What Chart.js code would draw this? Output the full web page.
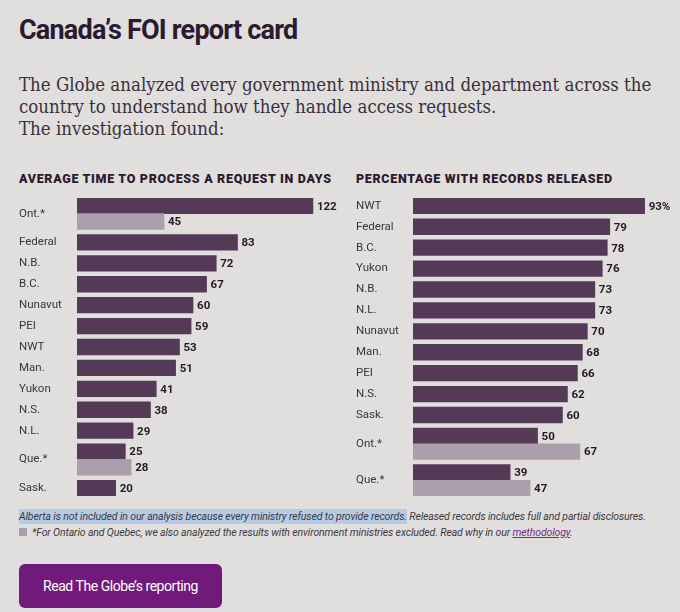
<!DOCTYPE html>
<html>
<head>
<meta charset="utf-8">
<script src="https://cdn.jsdelivr.net/npm/chart.js@4"></script>
<style>
  html, body { margin: 0; padding: 0; }
  body { width: 680px; height: 612px; background: #e1dfde; position: relative; overflow: hidden; font-family: Roboto, sans-serif; }
  h1 { position: absolute; left: 19px; top: 14px; margin: 0; font: 700 27px Roboto, sans-serif; letter-spacing: -0.8px; color: #2c1a2e; }
  .intro { position: absolute; left: 19px; top: 74px; width: 660px; margin: 0; font: 400 18.5px/22px "DejaVu Serif Condensed", "DejaVu Serif", serif; font-stretch: condensed; color: #3b2f3c; }
  .head { position: absolute; top: 171px; margin: 0; font: 900 12.5px Roboto, sans-serif; letter-spacing: 0.68px; color: #2c1a2e; }
  .box { position: absolute; top: 198px; height: 298px; }
  .note { position: absolute; left: 19px; margin: 0; font: italic 400 10.5px Roboto, sans-serif; letter-spacing: -0.13px; color: #3e3840; white-space: nowrap; }
  .note mark { background: #b7cbe6; color: inherit; padding: 1px 0; }
  .note a { color: #7b2a86; }
  .sq { display: inline-block; width: 8px; height: 8px; background: #aa9eae; margin-right: 5px; }
  .btn { position: absolute; left: 19px; top: 564px; width: 203px; height: 44px; background: #711a7c; border-radius: 6px; color: #fff; font: 400 14px Roboto, sans-serif; letter-spacing: -0.45px; line-height: 44px; text-align: center; }
</style>
</head>
<body>
<h1>Canada’s FOI report card</h1>
<p class="intro">The Globe analyzed every government ministry and department across the country to understand how they handle access requests.<br>The investigation found:</p>

<p class="head" style="left:19px">AVERAGE TIME TO PROCESS A REQUEST IN DAYS</p>
<p class="head" style="left:356px">PERCENTAGE WITH RECORDS RELEASED</p>

<div class="box" style="left:19px; width:321px"><canvas id="timeChart"></canvas></div>
<div class="box" style="left:356px; width:324px"><canvas id="releaseChart"></canvas></div>

<p class="note" style="top:510px"><mark>Alberta is not included in our analysis because every ministry refused to provide records.</mark> Released records includes full and partial disclosures.</p>
<p class="note" style="top:526px"><span class="sq"></span>*For Ontario and Quebec, we also analyzed the results with environment ministries excluded. Read why in our <a href="#">methodology</a>.</p>

<div class="btn">Read The Globe’s reporting</div>

<script>
// average days to process a request
const timeLabels = ['Ont.*', 'Federal', 'N.B.', 'B.C.', 'Nunavut', 'PEI', 'NWT', 'Man.', 'Yukon', 'N.S.', 'N.L.', 'Que.*', 'Sask.'];
const timeAll = [122, 83, 72, 67, 60, 59, 53, 51, 41, 38, 29, 25, 20];
const timeNoEnv = [45, null, null, null, null, null, null, null, null, null, null, 28, null]; // environment ministries excluded

// percentage with records released
const releaseLabels = ['NWT', 'Federal', 'B.C.', 'Yukon', 'N.B.', 'N.L.', 'Nunavut', 'Man.', 'PEI', 'N.S.', 'Sask.', 'Ont.*', 'Que.*'];
const releaseAll = [93, 79, 78, 76, 73, 73, 70, 68, 66, 62, 60, 50, 39];
const releaseNoEnv = [null, null, null, null, null, null, null, null, null, null, null, 67, 47];

const DARK = '#553a58';
const LIGHT = '#ab9fae';
const BAR_SHARE = 0.75; // a bar is 3/4 of a row, a second bar sits right under it

// builds the bar list, each bar on its own slot of a linear y scale
function buildRows(labels, all, noEnv) {
    const bars = [];
    const ticks = [];
    let pos = 0;
    labels.forEach((label, i) => {
        bars.push({ x: all[i], y: pos, light: false });
        if (noEnv[i] !== null) {
            bars.push({ x: noEnv[i], y: pos + BAR_SHARE, light: true });
            ticks.push({ value: pos + BAR_SHARE / 2 });
            pos += BAR_SHARE;
        } else {
            ticks.push({ value: pos });
        }
        pos += 1;
    });
    return { bars, ticks, last: pos - 1 };
}

const valueLabels = {
    id: 'valueLabels',
    afterDatasetsDraw(chart) {
        const ctx = chart.ctx;
        const suffix = chart.options.plugins.valueLabels.suffix;
        ctx.save();
        ctx.font = '700 11.5px Roboto, sans-serif';
        ctx.fillStyle = '#231a24';
        ctx.textBaseline = 'middle';
        chart.getDatasetMeta(0).data.forEach((bar, i) => {
            const v = chart.data.datasets[0].data[i].x;
            ctx.fillText(v + (i === 0 ? suffix : ''), bar.x + 4, bar.y + 1);
        });
        ctx.restore();
    }
};

function createBarChart(canvasId, labels, all, noEnv, xMax, axisWidth, suffix) {
    const rows = buildRows(labels, all, noEnv);
    const ctx = document.getElementById(canvasId).getContext('2d');
    return new Chart(ctx, {
        type: 'bar',
        data: {
            datasets: [{
                data: rows.bars,
                backgroundColor: rows.bars.map(b => b.light ? LIGHT : DARK),
                categoryPercentage: 1,
                barPercentage: 1,
            }]
        },
        options: {
            indexAxis: 'y',
            responsive: true,
            maintainAspectRatio: false,
            animation: false,
            layout: { padding: 0 },
            scales: {
                x: {
                    type: 'linear',
                    display: false,
                    min: 0,
                    max: xMax
                },
                y: {
                    type: 'linear',
                    reverse: true,
                    offset: false,
                    min: -BAR_SHARE / 2,
                    max: rows.last + BAR_SHARE / 2,
                    grid: { display: false, offset: false },
                    border: { display: false },
                    afterBuildTicks: function(scale) {
                        scale.ticks = rows.ticks.slice();
                    },
                    afterFit: function(scale) {
                        scale.width = axisWidth;
                        scale.paddingTop = 0;
                        scale.paddingBottom = 0;
                    },
                    ticks: {
                        crossAlign: 'far',
                        padding: 0,
                        color: '#3a3340',
                        font: { family: 'Roboto, sans-serif', size: 11.5 },
                        callback: function(value, index) {
                            return labels[index];
                        }
                    }
                }
            },
            plugins: {
                legend: { display: false },
                tooltip: { enabled: false },
                valueLabels: { suffix: suffix }
            }
        },
        plugins: [valueLabels]
    });
}

createBarChart('timeChart', timeLabels, timeAll, timeNoEnv, 136, 58, '');
createBarChart('releaseChart', releaseLabels, releaseAll, releaseNoEnv, 107.2, 57, '%');
</script>
</body>
</html>
